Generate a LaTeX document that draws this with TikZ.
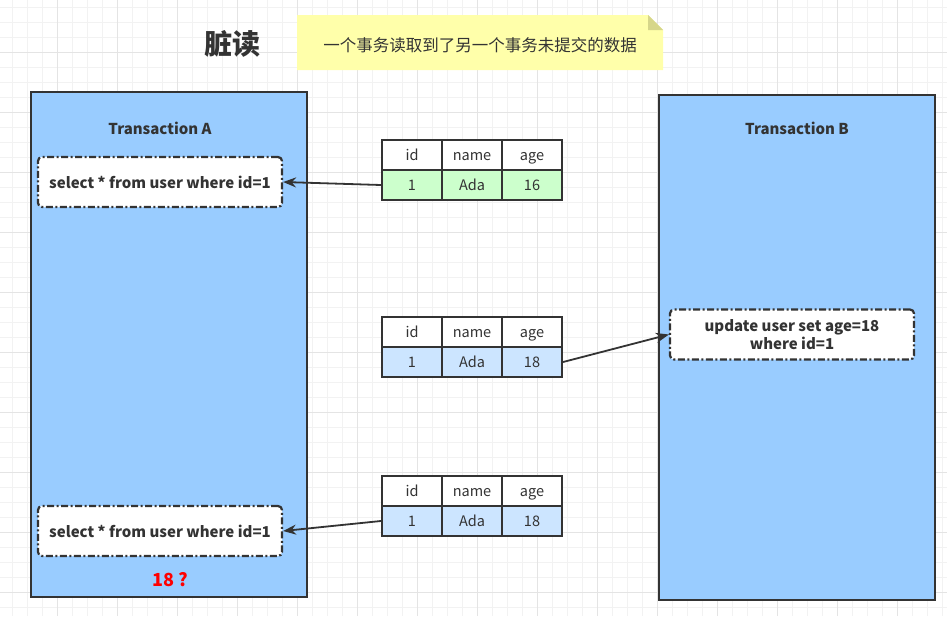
\documentclass[tikz,border=0pt]{standalone}
\usepackage{fontspec}
\setmainfont{Noto Sans CJK SC}
\usetikzlibrary{positioning,arrows.meta}
\definecolor{linec}{HTML}{333333}
\definecolor{txfill}{HTML}{99CCFF}
\definecolor{rowgreen}{HTML}{CCFFCC}
\definecolor{rowblue}{HTML}{CCE5FF}
\definecolor{notefill}{HTML}{FFFFAA}
\definecolor{notefold}{HTML}{D6D68A}
\definecolor{gridminor}{HTML}{F2F2F2}
\definecolor{gridmajor}{HTML}{E4E4E4}
\tikzset{
	txbox/.style={draw=linec,fill=txfill,line width=2.2pt,inner sep=0pt},
	query/.style={draw=linec,fill=white,line width=2.2pt,rounded corners=4pt,
		dash pattern=on 7pt off 2.5pt on 2pt off 2.5pt,
		minimum width=244,minimum height=50,align=center,
		font=\fontsize{15}{18}\selectfont\bfseries,text=linec},
	cell/.style={draw=linec,line width=2.2pt,minimum width=60,minimum height=30,
		inner sep=0pt,text height=2.1ex,text depth=0.1ex,
		font=\fontsize{14.5}{16}\selectfont,text=linec},
	flow/.style={-{Stealth[length=13pt,width=10pt]},draw=linec,line width=1.8pt}
}
% one small table: name, top edge, fill of the data row, age
\newcommand{\datatable}[4]
{
	\node[cell,fill=white] (#1h1) at (412,#2+15) {id};
	\node[cell,fill=white] (#1h2) at (472,#2+15) {name};
	\node[cell,fill=white] (#1h3) at (532,#2+15) {age};
	\node[cell,fill=#3] (#1v1) at (412,#2+45) {1};
	\node[cell,fill=#3] (#1v2) at (472,#2+45) {Ada};
	\node[cell,fill=#3] (#1v3) at (532,#2+45) {#4};
}

\begin{document}
\begin{tikzpicture}[x=1pt,y=-1pt]
	\useasboundingbox (0,0) rectangle (947,616);
	% grid
	\foreach \gx in {12.7,27.7,...,947} \draw[gridminor,line width=0.8pt] (\gx,0) -- (\gx,616);
	\foreach \gy in {7.3,22.3,...,616} \draw[gridminor,line width=0.8pt] (0,\gy) -- (947,\gy);
	\foreach \gx in {57.7,117.7,...,947} \draw[gridmajor,line width=0.8pt] (\gx,0) -- (\gx,616);
	\foreach \gy in {52.3,112.3,...,616} \draw[gridmajor,line width=0.8pt] (0,\gy) -- (947,\gy);
	% title and note
	\node[font=\fontsize{28}{30}\selectfont\bfseries,text=linec] (title) at (232,44) {脏读};
	\fill[notefill] (297,15) -- (648,15) -- (663,30) -- (663,70) -- (297,70) -- cycle;
	\fill[notefold] (648,15) -- (663,30) -- (648,30) -- cycle;
	\node[font=\fontsize{16.5}{18}\selectfont,text=linec] (note) at (480,45) {一个事务读取到了另一个事务未提交的数据};
	% transactions
	\draw[txbox] (31,92) rectangle (307,597);
	\draw[txbox] (659,95) rectangle (935,600);
	\node[font=\fontsize{15}{17}\selectfont\bfseries,text=linec] (txa) at (160,128) {Transaction A};
	\node[font=\fontsize{15}{17}\selectfont\bfseries,text=linec] (txb) at (797,128) {Transaction B};
	\node[query] (qa1) at (160,182) {select * from user where id=1};
	\node[query] (qa2) at (160,531) {select * from user where id=1};
	\node[query] (upd) at (792,334.5) {update user set age=18\\where id=1};
	\node[font=\fontsize{18}{20}\selectfont\bfseries,text=red] (res) at (170,580) {18 ?};
	% tables
	\datatable{ta}{140}{rowgreen}{16}
	\datatable{tb}{317}{rowblue}{18}
	\datatable{tc}{476}{rowblue}{18}
	\draw[flow] (tav1.west) -- (qa1.east);
	\draw[flow] (tbv3.east) -- (upd.west);
	\draw[flow] (tcv1.west) -- (qa2.east);
\end{tikzpicture}
\end{document}
